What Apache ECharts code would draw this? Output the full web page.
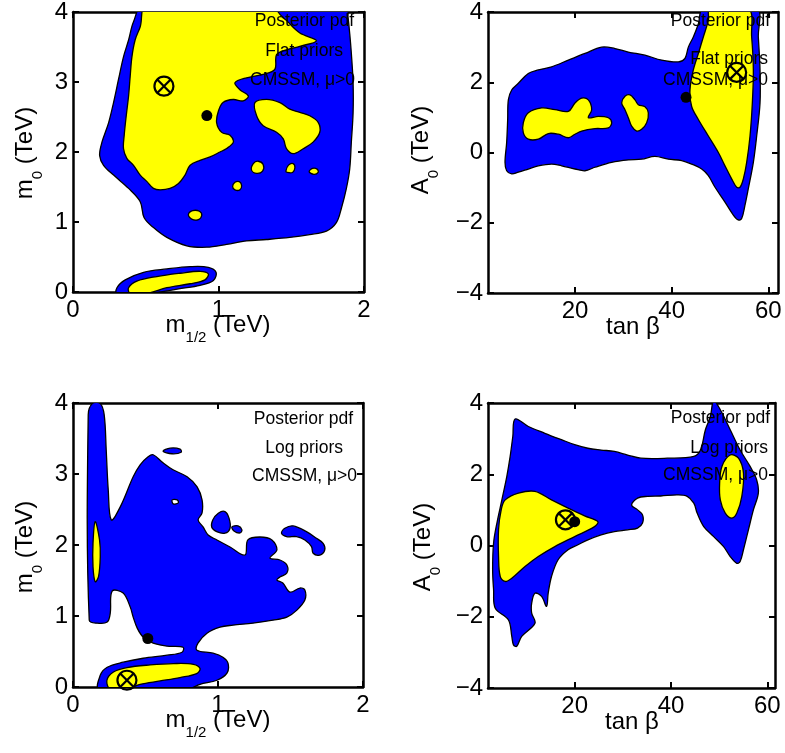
<!DOCTYPE html>
<html>
<head>
<meta charset="utf-8">
<script src="https://cdn.jsdelivr.net/npm/echarts@6/dist/echarts.min.js"></script>
<style>html,body{margin:0;padding:0;background:#fff;}#c{width:785px;height:753px;}</style>
</head>
<body>
<div id="c"></div>
<script>
// ---------- DATA (contour outlines in data units) ----------
// Top-left: m1/2 (TeV) vs m0 (TeV), flat priors
const tlBlueOuter = [[0.485,4.1],[0.416,3.86],[0.382,3.60],[0.347,3.36],[0.313,3.04],[0.279,2.71],[0.245,2.42],[0.199,2.14],[0.183,1.95],[0.210,1.81],[0.279,1.67],[0.382,1.48],[0.462,1.29],[0.489,1.06],[0.553,0.92],[0.645,0.78],[0.782,0.66],[0.919,0.64],[1.056,0.68],[1.193,0.73],[1.330,0.75],[1.490,0.78],[1.627,0.82],[1.742,0.87],[1.810,0.99],[1.845,1.20],[1.879,1.48],[1.902,1.76],[1.913,2.14],[1.925,2.56],[1.925,2.99],[1.913,3.41],[1.902,3.69],[1.890,3.93],[1.879,4.1]];
const tlYellowMain = [[0.507,4.1],[1.410,4.1],[1.410,4.0],[1.467,3.88],[1.559,3.70],[1.673,3.59],[1.559,3.51],[1.467,3.46],[1.399,3.39],[1.387,3.18],[1.307,3.11],[1.193,3.06],[1.113,2.99],[1.147,2.89],[1.205,2.80],[1.170,2.73],[1.102,2.75],[1.033,2.71],[1.0,2.59],[0.987,2.42],[1.022,2.28],[1.079,2.24],[1.102,2.14],[1.056,2.05],[1.010,2.0],[0.942,1.93],[0.873,1.88],[0.805,1.81],[0.770,1.67],[0.725,1.55],[0.667,1.48],[0.599,1.46],[0.553,1.48],[0.507,1.58],[0.462,1.67],[0.416,1.81],[0.370,1.91],[0.347,2.05],[0.352,2.24],[0.366,2.52],[0.382,2.80],[0.393,3.08],[0.405,3.36],[0.427,3.60],[0.462,3.79]];
const tlYellowIsland = [[1.250,2.706],[1.330,2.753],[1.422,2.706],[1.490,2.612],[1.559,2.565],[1.627,2.518],[1.685,2.424],[1.696,2.282],[1.650,2.141],[1.582,2.047],[1.513,1.976],[1.467,2.047],[1.445,2.188],[1.399,2.282],[1.307,2.376],[1.262,2.518]];
const tlYellowSpots = [
  [[1.227,1.741],[1.239,1.835],[1.273,1.868],[1.307,1.821],[1.303,1.727],[1.262,1.694]],
  [[1.097,1.506],[1.113,1.567],[1.143,1.576],[1.159,1.520],[1.147,1.459],[1.113,1.459]],
  [[0.793,1.106],[0.823,1.162],[0.869,1.153],[0.885,1.096],[0.862,1.035],[0.816,1.040]],
  [[1.463,1.727],[1.481,1.812],[1.513,1.835],[1.525,1.774],[1.509,1.708],[1.472,1.708]],
  [[1.623,1.718],[1.646,1.765],[1.678,1.755],[1.685,1.708],[1.655,1.680]]
];
const tlBlueLow = [[0.302,0.061],[0.359,0.174],[0.485,0.282],[0.645,0.329],[0.805,0.362],[0.930,0.353],[0.983,0.282],[0.965,0.165],[0.873,0.094],[0.736,0.047],[0.599,0],[0.462,-0.04],[0.302,-0.04]];
const tlYellowLow = [[0.382,0.061],[0.439,0.155],[0.576,0.221],[0.736,0.268],[0.873,0.296],[0.930,0.259],[0.907,0.174],[0.805,0.118],[0.645,0.061],[0.507,-0.02],[0.393,-0.02]];

// Top-right: tan beta vs A0 (TeV), flat priors
const trBlue = [[46.55,4.1],[57.59,4.1],[57.93,3.29],[58.28,2.35],[58.28,1.41],[57.59,0.47],[56.90,-0.28],[55.86,-1.03],[55.17,-1.50],[54.48,-1.88],[53.79,-1.92],[52.76,-1.78],[51.03,-1.41],[48.97,-0.99],[47.59,-0.66],[46.21,-0.47],[44.14,-0.33],[42.07,-0.23],[39.31,-0.19],[36.55,-0.11],[33.79,-0.19],[31.03,-0.21],[27.59,-0.28],[24.14,-0.42],[22.07,-0.52],[20,-0.47],[17.24,-0.38],[15.17,-0.33],[12.41,-0.38],[10.34,-0.47],[8.28,-0.56],[6.90,-0.61],[5.86,-0.52],[5.52,-0.28],[5.86,0.28],[6.07,0.94],[6.21,1.50],[6.90,1.78],[8.28,1.97],[10.34,2.25],[12.41,2.35],[15.17,2.44],[18.62,2.63],[22.07,2.82],[25.52,3.00],[28.28,2.96],[31.03,2.86],[34.48,2.77],[37.93,2.63],[41.38,2.58],[42.76,2.68],[43.45,3.00],[44.48,3.29],[45.52,3.66]];
const trYellow = [[47.93,4.1],[55.86,4.1],[56.55,3.29],[56.90,2.35],[56.69,1.41],[56.21,0.47],[55.52,-0.28],[54.83,-0.75],[54.14,-0.99],[53.45,-0.99],[52.41,-0.75],[51.03,-0.38],[49.66,0],[47.59,0.47],[45.52,0.94],[44.14,1.31],[43.79,1.78],[44.48,2.35],[45.52,2.82],[46.55,3.29],[47.59,3.76]];
const trYellowIslands = [
  [[9.31,0.85],[10.34,1.13],[13.10,1.27],[15.86,1.22],[18.62,1.17],[20,1.41],[21.38,1.55],[22.76,1.50],[23.45,1.22],[22.76,0.99],[24.83,1.03],[26.90,0.99],[27.59,0.85],[26.90,0.70],[24.14,0.68],[21.38,0.61],[20,0.52],[18.62,0.42],[16.55,0.52],[14.48,0.54],[12.41,0.38],[10.34,0.38],[9.31,0.56]],
  [[29.66,1.41],[30.34,1.60],[31.38,1.64],[32.41,1.50],[33.10,1.36],[34.48,1.30],[35.17,1.13],[34.83,0.85],[33.79,0.66],[32.76,0.61],[31.72,0.75],[31.03,0.99],[30.34,1.22]]
];

// Bottom-left: m1/2 vs m0, log priors
const blBlue = [[0.105,3.836],[0.133,3.991],[0.188,3.991],[0.215,3.836],[0.229,3.342],[0.243,2.777],[0.264,2.354],[0.326,2.537],[0.415,2.961],[0.463,3.130],[0.518,3.243],[0.553,3.271],[0.621,3.158],[0.690,3.059],[0.787,2.961],[0.856,2.819],[0.890,2.636],[0.890,2.452],[0.863,2.353],[0.897,2.254],[0.932,2.141],[0.993,2.071],[1.083,1.972],[1.186,1.859],[1.206,2.071],[1.289,2.113],[1.372,2.071],[1.406,1.930],[1.358,1.817],[1.427,1.789],[1.475,1.719],[1.475,1.605],[1.427,1.549],[1.406,1.507],[1.447,1.464],[1.496,1.337],[1.565,1.394],[1.599,1.365],[1.599,1.224],[1.544,1.083],[1.475,0.984],[1.379,0.941],[1.241,0.899],[1.103,0.871],[1.014,0.843],[0.924,0.758],[0.862,0.617],[0.855,0.518],[0.966,0.476],[1.034,0.420],[1.069,0.335],[1.062,0.194],[0.993,0.095],[0.876,0.038],[0.787,-0.03],[0.181,-0.03],[0.188,0.165],[0.236,0.278],[0.346,0.349],[0.484,0.405],[0.649,0.448],[0.752,0.490],[0.759,0.560],[0.649,0.575],[0.553,0.617],[0.484,0.702],[0.443,0.829],[0.415,0.984],[0.395,1.125],[0.346,1.323],[0.270,1.351],[0.257,1.041],[0.236,0.914],[0.167,0.899],[0.112,0.941]];
const blBlueIslands = [
  [[0.621,3.321],[0.670,3.364],[0.739,3.350],[0.746,3.307],[0.683,3.285]],
  [[0.964,2.353],[1.002,2.448],[1.048,2.471],[1.076,2.378],[1.083,2.236],[1.048,2.166],[0.991,2.188],[0.957,2.250]],
  [[1.096,2.255],[1.138,2.269],[1.165,2.213],[1.152,2.170],[1.110,2.198]],
  [[1.461,2.236],[1.518,2.269],[1.610,2.188],[1.679,2.095],[1.725,2.024],[1.736,1.930],[1.702,1.859],[1.656,1.883],[1.645,1.977],[1.599,2.071],[1.542,2.118],[1.473,2.118],[1.438,2.166]]
];
const blHoles = [[[0.684,2.636],[0.719,2.636],[0.726,2.593],[0.691,2.579]]];
const blYellowSpike = [[0.153,2.329],[0.183,2.071],[0.188,1.835],[0.176,1.553],[0.153,1.483],[0.138,1.694],[0.138,2.025]];
const blYellowLow = [[0.234,0.095],[0.279,0.212],[0.372,0.274],[0.532,0.311],[0.692,0.330],[0.830,0.320],[0.876,0.260],[0.853,0.189],[0.738,0.133],[0.601,0.085],[0.463,0.038],[0.372,-0.03],[0.257,-0.03]];

// Bottom-right: tan beta vs A0, log priors
const brBlue = [[7.63,3.55],[10.38,3.34],[13.81,3.15],[17.25,2.97],[20,2.83],[22.75,2.73],[25.50,2.68],[28.25,2.64],[31.00,2.54],[33.75,2.45],[39.24,2.45],[44.74,2.50],[46.12,2.68],[47.15,3.25],[48.18,3.62],[48.87,4.06],[50.24,3.81],[52.30,3.25],[54.36,2.68],[56.43,2.22],[57.80,1.84],[58.14,1.47],[57.11,1.00],[56.08,0.44],[55.05,-0.12],[54.36,-0.45],[53.68,-0.50],[52.30,-0.31],[50.93,-0.03],[48.87,0.25],[46.80,0.53],[45.43,0.91],[44.74,1.19],[43.37,1.38],[41.31,1.42],[37.87,1.39],[35.12,1.38],[33.06,1.33],[31.82,1.14],[33.06,1.00],[34.09,0.86],[34.09,0.63],[33.06,0.49],[31.00,0.44],[28.25,0.39],[25.50,0.30],[22.75,0.16],[20.69,0.02],[18.63,-0.12],[16.56,-0.40],[15.19,-0.87],[14.50,-1.34],[14.16,-1.71],[13.13,-1.43],[11.75,-1.34],[11.07,-1.62],[11.07,-1.90],[11.75,-2.18],[9.00,-2.55],[7.97,-2.83],[7.29,-2.79],[6.94,-2.55],[6.25,-2.09],[3.51,-1.76],[3.16,-1.24],[2.96,-0.68],[3.16,0.07],[3.85,0.63],[4.88,1.28],[5.91,1.94],[6.60,2.50],[7.15,3.06]];
const brYellowLeft = [[5.57,1.28],[8.32,1.47],[11.75,1.52],[15.19,1.28],[18.63,1.05],[22.06,0.83],[24.81,0.67],[24.12,0.53],[20,0.25],[15.88,-0.03],[12.44,-0.31],[9.69,-0.59],[6.94,-0.92],[5.57,-1.01],[4.54,-0.87],[4.19,-0.31],[4.19,0.44],[4.74,1.00]];
const brYellowRight = [[52.30,2.54],[54.02,2.45],[55.05,2.03],[54.71,1.38],[53.68,0.91],[52.65,0.77],[51.27,0.91],[50.24,1.28],[50.10,1.75],[50.58,2.22]];

// Best fit (circled cross) and posterior mean (dot), one per panel
const bestFit  = [[0.625,2.94],[53.45,2.28],[0.372,0.095],[18.08,0.72]];
const postMean = [[0.92,2.52],[42.97,1.57],[0.516,0.683],[20.0,0.67]];

// Axis ticks
const tanbTicks = [20,40,60];

const panelText = [
  ['Posterior pdf','Flat priors','CMSSM, \u03bc>0'],
  ['Posterior pdf','Flat priors','CMSSM, \u03bc>0'],
  ['Posterior pdf','Log priors','CMSSM, \u03bc>0'],
  ['Posterior pdf','Log priors','CMSSM, \u03bc>0']
];

// ---------- CHART ----------
const FONT = "'Liberation Sans', Arial, Helvetica, sans-serif";
const BLUE = '#0000ff', YELLOW = '#ffff00';
const chart = echarts.init(document.getElementById('c'), null, {renderer:'canvas'});

const grids = [
  {left:73, top:8, width:291, height:284},
  {left:488, top:8, width:290, height:285},
  {left:73, top:403, width:290, height:284},
  {left:488, top:403, width:287, height:285}
];
const xRanges = [[0,2,null],[2,62,tanbTicks],[0,2,null],[2,61.6,tanbTicks]];
const yRanges = [[0,4,1],[-4,4,2],[0,4,1],[-4,4,2]];

const lineStyle = {color:'#000', width:2.5};
const tickStyle = {color:'#000', width:2};
const labelBase = {color:'#000', fontSize:24, fontFamily:FONT};
const fmt = v => (v < 0 ? '\u2212' + Math.abs(v) : String(v));

const xAxis = [], yAxis = [];
grids.forEach((g, i) => {
  const [xmin, xmax, custom] = xRanges[i];
  const [ymin, ymax, yint] = yRanges[i];
  ['bottom','top'].forEach(pos => {
    const ax = {gridIndex:i, type:'value', position:pos, min:xmin, max:xmax,
      axisLine:{show:true, onZero:false, lineStyle},
      axisTick:{show:true, inside:true, length:6, lineStyle:tickStyle},
      axisLabel:Object.assign({show:pos==='bottom', margin:6, formatter:fmt, showMinLabel:true, showMaxLabel:true}, labelBase),
      splitLine:{show:false}};
    if (custom) { ax.axisTick.customValues = custom; ax.axisLabel.customValues = custom; }
    else { ax.interval = 1; }
    xAxis.push(ax);
  });
  ['left','right'].forEach(pos => {
    yAxis.push({gridIndex:i, type:'value', position:pos, min:ymin, max:ymax, interval:yint,
      axisLine:{show:true, onZero:false, lineStyle},
      axisTick:{show:true, inside:true, length:6, lineStyle:tickStyle},
      axisLabel:Object.assign({show:pos==='left', margin:5, formatter:fmt, showMinLabel:true, showMaxLabel:true}, labelBase),
      splitLine:{show:false}});
  });
});

function polySeries(panel, polys, color) {
  return {
    type:'custom', xAxisIndex:panel*2, yAxisIndex:panel*2, clip:true, silent:true,
    data: polys.map((p, k) => [p[0][0], p[0][1], k]),
    renderItem: (params, api) => {
      const poly = polys[params.dataIndex];
      const pts = poly.map(p => api.coord(p));
      return {type:'polygon', shape:{points:pts, smooth:0.35},
        style:{fill:color, stroke:'#000', lineWidth:1.3}};
    }
  };
}

const series = [];
series.push(polySeries(0, [tlBlueOuter, tlBlueLow], BLUE));
series.push(polySeries(0, [tlYellowMain, tlYellowIsland, tlYellowLow].concat(tlYellowSpots), YELLOW));
series.push(polySeries(1, [trBlue], BLUE));
series.push(polySeries(1, [trYellow].concat(trYellowIslands), YELLOW));
series.push(polySeries(2, [blBlue].concat(blBlueIslands), BLUE));
series.push(polySeries(2, blHoles, '#ffffff'));
series.push(polySeries(2, [blYellowSpike, blYellowLow], YELLOW));
series.push(polySeries(3, [brBlue], BLUE));
series.push(polySeries(3, [brYellowLeft, brYellowRight], YELLOW));

for (let i = 0; i < 4; i++) {
  series.push({
    type:'custom', xAxisIndex:i*2, yAxisIndex:i*2, silent:true, z:5,
    data:[postMean[i]],
    renderItem:(params, api) => {
      const c = api.coord([api.value(0), api.value(1)]);
      return {type:'circle', shape:{cx:c[0], cy:c[1], r:5.5}, style:{fill:'#000'}};
    }
  });
  series.push({
    type:'custom', xAxisIndex:i*2, yAxisIndex:i*2, silent:true, z:6,
    data:[bestFit[i]],
    renderItem:(params, api) => {
      const c = api.coord([api.value(0), api.value(1)]);
      const r = 9.5, d = r * 0.707;
      const st = {stroke:'#000', lineWidth:2.2, fill:null};
      return {type:'group', children:[
        {type:'circle', shape:{cx:c[0], cy:c[1], r}, style:{fill:'none', stroke:'#000', lineWidth:2.2}},
        {type:'line', shape:{x1:c[0]-d, y1:c[1]-d, x2:c[0]+d, y2:c[1]+d}, style:st},
        {type:'line', shape:{x1:c[0]-d, y1:c[1]+d, x2:c[0]+d, y2:c[1]-d}, style:st}
      ]};
    }
  });
}

const graphic = [];
const annoPos = [
  [[354,21],[343,51],[355,80]],
  [[770,21],[768,59],[768,80]],
  [[353,419],[343,448],[357,476]],
  [[770,418],[768,448],[768,475]]
];
annoPos.forEach((rows, i) => rows.forEach((p, j) => {
  graphic.push({type:'text', x:p[0], y:p[1], z:100,
    style:{text:panelText[i][j], font:'17.5px ' + FONT, fill:'#000', align:'right', verticalAlign:'middle'}});
}));
const rich = {
  m:{fontSize:24, fontFamily:FONT, fill:'#000', verticalAlign:'bottom', padding:[0,0,8,0], lineHeight:26},
  s:{fontSize:15, fontFamily:FONT, fill:'#000', verticalAlign:'bottom', lineHeight:16}
};
function title(x, y, text, rot) {
  graphic.push({type:'text', x, y, rotation:rot || 0, z:100,
    style:{text, rich, align:'center', verticalAlign:'middle', fill:'#000'}});
}
title(218, 332, '{m|m}{s|1/2}{m| (TeV)}');
title(218, 727, '{m|m}{s|1/2}{m| (TeV)}');
title(633, 334, '{m|tan \u03b2}');
title(632, 729, '{m|tan \u03b2}');
title(32, 153, '{m|m}{s|0}{m| (TeV)}', Math.PI/2);
title(32, 547, '{m|m}{s|0}{m| (TeV)}', Math.PI/2);
title(428, 150, '{m|A}{s|0}{m| (TeV)}', Math.PI/2);
title(430, 547, '{m|A}{s|0}{m| (TeV)}', Math.PI/2);

chart.setOption({
  backgroundColor:'#ffffff',
  animation:false,
  grid:grids,
  xAxis, yAxis, series, graphic
});
</script>
</body>
</html>
